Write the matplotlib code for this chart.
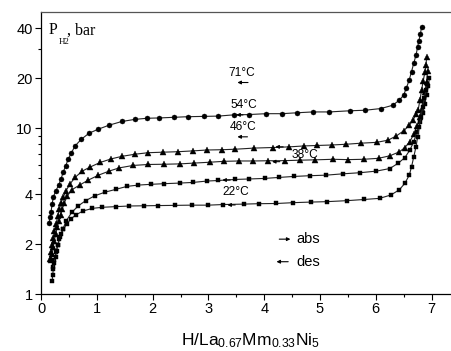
import matplotlib
matplotlib.use("Agg")
import matplotlib.pyplot as plt
from matplotlib.ticker import FixedLocator, NullFormatter

plt.rcParams['font.family'] = ['Liberation Sans', 'DejaVu Sans']
plt.rcParams['mathtext.fontset'] = 'custom'
plt.rcParams['mathtext.rm'] = 'Liberation Sans'
plt.rcParams['mathtext.it'] = 'Liberation Sans'

# ---- data (H/La0.67Mm0.33Ni5, pressure in bar) ----
x71 = [0.14, 0.17, 0.18, 0.20, 0.22, 0.26, 0.32, 0.36, 0.40, 0.44, 0.49, 0.54, 0.61, 0.72, 0.86,
       1.03, 1.22, 1.45, 1.68, 1.90, 2.12, 2.38, 2.63, 2.92, 3.18, 3.45, 3.72, 4.03, 4.32, 4.58,
       4.87, 5.17, 5.53, 5.81, 6.09, 6.30, 6.42, 6.50, 6.55, 6.60, 6.64, 6.68, 6.72, 6.75, 6.77,
       6.80, 6.82]
p71 = [2.69, 2.9, 3.13, 3.5, 3.82, 4.15, 4.55, 4.95, 5.43, 5.9, 6.5, 7.04, 7.8, 8.54, 9.3,
       9.85, 10.4, 10.95, 11.27, 11.45, 11.5, 11.6, 11.7, 11.75, 11.8, 12.0, 12.05, 12.2, 12.2, 12.35,
       12.5, 12.5, 12.7, 12.8, 13.1, 13.7, 14.7, 15.8, 17.5, 19.5, 21.9, 24.5, 27.5, 30.7, 33.5,
       36.8, 40.7]

x54 = [0.16, 0.18, 0.20, 0.22, 0.24, 0.27, 0.30, 0.33, 0.36, 0.40, 0.45, 0.52, 0.61, 0.74, 0.88,
       1.06, 1.26, 1.45, 1.68, 1.92, 2.18, 2.46, 2.72, 2.97, 3.24, 3.48, 3.82, 4.15, 4.45, 4.72,
       4.95, 5.21, 5.46, 5.73, 6.02, 6.22, 6.37, 6.50, 6.60, 6.67, 6.72, 6.76, 6.79, 6.82, 6.85,
       6.88, 6.90, 6.91]
p54 = [1.62, 1.8, 1.98, 2.18, 2.4, 2.65, 2.95, 3.25, 3.55, 3.85, 4.2, 4.6, 5.04, 5.5, 5.82,
       6.2, 6.52, 6.75, 6.95, 7.1, 7.15, 7.2, 7.28, 7.37, 7.4, 7.45, 7.57, 7.63, 7.7, 7.8,
       7.85, 7.9, 7.98, 8.1, 8.2, 8.45, 8.97, 9.62, 10.4, 11.2, 12.1, 12.9, 14.7, 16.9, 19.2,
       21.8, 24.0, 26.6]

x46 = [0.18, 0.20, 0.22, 0.24, 0.26, 0.29, 0.32, 0.35, 0.38, 0.42, 0.47, 0.55, 0.69, 0.85, 1.03,
       1.22, 1.40, 1.65, 1.92, 2.21, 2.49, 2.75, 3.02, 3.28, 3.55, 3.80, 4.07, 4.37, 4.64, 4.91,
       5.23, 5.50, 5.78, 6.05, 6.25, 6.42, 6.52, 6.61, 6.68, 6.74, 6.79, 6.82, 6.85, 6.88, 6.91,
       6.93]
p46 = [1.6, 1.75, 1.92, 2.1, 2.3, 2.52, 2.75, 3.0, 3.25, 3.55, 3.9, 4.24, 4.53, 4.86, 5.2,
       5.5, 5.75, 5.95, 6.03, 6.05, 6.08, 6.15, 6.22, 6.3, 6.33, 6.33, 6.35, 6.36, 6.4, 6.43,
       6.48, 6.45, 6.48, 6.57, 6.8, 7.18, 7.62, 8.28, 9.17, 10.3, 11.6, 13.1, 14.7, 16.5, 19.0,
       22.0]

x38 = [0.22, 0.24, 0.27, 0.30, 0.34, 0.39, 0.45, 0.55, 0.67, 0.80, 0.96, 1.14, 1.34, 1.54, 1.74,
       1.97, 2.21, 2.49, 2.72, 2.97, 3.18, 3.48, 3.72, 4.01, 4.27, 4.54, 4.82, 5.11, 5.42, 5.72,
       6.01, 6.25, 6.40, 6.52, 6.61, 6.68, 6.74, 6.79, 6.84, 6.88, 6.91, 6.94, 6.96]
p38 = [1.45, 1.6, 1.78, 1.98, 2.2, 2.45, 2.75, 3.1, 3.4, 3.65, 3.9, 4.1, 4.27, 4.45, 4.53,
       4.58, 4.62, 4.66, 4.7, 4.79, 4.83, 4.9, 4.93, 4.97, 5.04, 5.11, 5.16, 5.2, 5.3, 5.38,
       5.5, 5.7, 6.13, 6.63, 7.36, 8.28, 9.5, 10.8, 12.3, 14.0, 15.8, 17.8, 19.9]

x22 = [0.20, 0.21, 0.22, 0.23, 0.26, 0.28, 0.30, 0.33, 0.36, 0.40, 0.46, 0.53, 0.62, 0.75, 0.92,
       1.10, 1.34, 1.58, 1.85, 2.10, 2.40, 2.70, 3.00, 3.27, 3.63, 3.91, 4.22, 4.52, 4.84, 5.12,
       5.48, 5.79, 6.07, 6.27, 6.42, 6.52, 6.60, 6.64, 6.68, 6.72, 6.75, 6.78, 6.81, 6.84, 6.87,
       6.90, 6.92]
p22 = [1.2, 1.3, 1.41, 1.53, 1.68, 1.82, 1.98, 2.14, 2.3, 2.46, 2.63, 2.82, 2.99, 3.16, 3.28,
       3.33, 3.36, 3.39, 3.4, 3.41, 3.42, 3.43, 3.43, 3.46, 3.48, 3.5, 3.51, 3.55, 3.58, 3.6,
       3.65, 3.71, 3.77, 3.95, 4.24, 4.64, 5.2, 5.83, 6.7, 7.7, 8.85, 10.2, 11.7, 13.4, 15.2,
       17.0, 18.5]

temp_labels = ["71°C", "54°C", "46°C", "38°C", "22°C"]
label_x = [3.60, 3.63, 3.63, 4.73, 3.50]
label_p = [21.6, 13.7, 10.1, 6.85, 4.1]

# desorption arrows on the curves (x_from, x_to, p)
des_arrows = [(3.62, 3.50, 12.0), (4.34, 4.20, 7.7), (4.28, 4.14, 6.27),
              (3.39, 3.25, 4.86), (3.48, 3.34, 3.44),
              (3.71, 3.52, 18.8), (3.70, 3.52, 8.85)]

xticks = [0, 1, 2, 3, 4, 5, 6, 7]
yticks = [1, 2, 4, 10, 20, 40]
yminor = [3, 5, 6, 7, 8, 9, 30]

W, H = 451, 351
fig = plt.figure(figsize=(W / 100, H / 100), dpi=100)
ax = fig.add_axes([41 / W, 1 - 294 / H, 411 / W, 282 / H])

series = [(x71, p71, 'o', 3.6), (x54, p54, '^', 4.2), (x46, p46, '^', 4.2),
          (x38, p38, 's', 3.3), (x22, p22, 's', 3.3)]
for xs, ps, m, ms in series:
    ax.plot(xs, ps, color='#222222', lw=0.8, marker=m, ms=ms,
            mfc='black', mec='black', mew=0.3)

ax.set_yscale('log')
ax.set_xlim(0, 411 / 55.8)
ax.set_ylim(1, 50)
ax.xaxis.set_major_locator(FixedLocator(xticks))
ax.xaxis.set_minor_locator(FixedLocator([v + 0.5 for v in xticks]))
ax.yaxis.set_major_locator(FixedLocator(yticks))
ax.yaxis.set_minor_locator(FixedLocator(yminor))
ax.yaxis.set_minor_formatter(NullFormatter())
ax.set_yticklabels([str(v) for v in yticks])
ax.set_xticklabels([str(v) for v in xticks])
ax.tick_params(which='major', direction='out', length=4, width=0.8, labelsize=10.5, pad=2)
ax.tick_params(which='minor', direction='out', length=2.2, width=0.8)
ax.tick_params(top=False, right=False)
ax.spines['right'].set_visible(False)
ax.spines['top'].set_color('#555555')
for s in ['left', 'bottom', 'top']:
    ax.spines[s].set_linewidth(0.9)

for t, lx, lp in zip(temp_labels, label_x, label_p):
    ax.text(lx, lp, t, ha='center', va='center', fontsize=8.6)

for x0, x1, p in des_arrows:
    ax.annotate('', xy=(x1, p), xytext=(x0, p),
                arrowprops=dict(arrowstyle='-|>', lw=0.8, color='black',
                                mutation_scale=5, shrinkA=0, shrinkB=0))

# abs / des legend
ax.annotate('', xy=(4.47, 2.14), xytext=(4.27, 2.14),
            arrowprops=dict(arrowstyle='-|>', lw=0.8, color='black',
                            mutation_scale=5, shrinkA=0, shrinkB=0))
ax.annotate('', xy=(4.22, 1.565), xytext=(4.43, 1.565),
            arrowprops=dict(arrowstyle='-|>', lw=0.8, color='black',
                            mutation_scale=5, shrinkA=0, shrinkB=0))
ax.text(4.57, 2.14, 'abs', ha='left', va='center', fontsize=10.5)
ax.text(4.57, 1.565, 'des', ha='left', va='center', fontsize=10.5)

# y label P_H2, bar (serif)
serif = ['Liberation Serif', 'DejaVu Serif']
fig.text(48.5 / W, 1 - 34.5 / H, 'P', family=serif, fontsize=11.5, va='baseline', ha='left')
fig.text(58.5 / W, 1 - 43.5 / H, 'H2', family=serif, fontsize=6.5, va='baseline', ha='left')
fig.text(67.0 / W, 1 - 34.5 / H, ', bar', family=serif, fontsize=11.5, va='baseline', ha='left')

# x label
fig.text(251 / W, 1 - 345 / H, r'H/La$_{0.67}$Mm$_{0.33}$Ni$_{5}$', ha='center',
         va='baseline', fontsize=12.5)

fig.savefig('out.png', dpi=100)
